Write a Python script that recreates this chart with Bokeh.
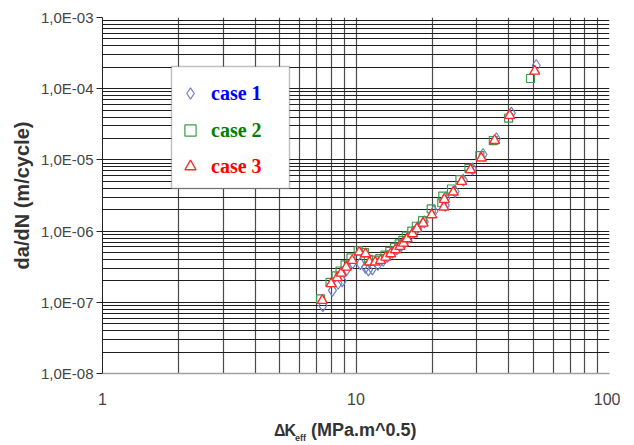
from bokeh.plotting import figure
from bokeh.models import (Range1d, FixedTicker, Legend, LegendItem, BoxAnnotation, Div)
from bokeh.layouts import column
from bokeh.embed import file_html
from bokeh.resources import INLINE

# ---- data ----
case1_x = [7.4, 8.07, 8.5, 8.82, 9.2, 9.7, 10.4, 10.9, 11.2, 11.6, 12.2, 12.8, 13.3, 13.9, 14.5,
           15.1, 15.6, 16.2, 16.9, 17.6, 18.6, 20.3, 22.5, 22.6, 24.6, 26.5, 28.8, 31.7, 35.8, 41.0, 51.4]
case1_y = [9.0e-8, 1.47e-7, 1.85e-7, 2.0e-7, 2.9e-7, 3.6e-7, 3.5e-7, 3.1e-7, 2.85e-7, 2.95e-7, 3.4e-7,
           3.9e-7, 4.4e-7, 5.0e-7, 5.6e-7, 6.3e-7, 7.1e-7, 8.2e-7, 9.6e-7, 1.14e-6, 1.35e-6, 1.9e-6,
           2.3e-6, 2.9e-6, 3.6e-6, 5.2e-6, 7.5e-6, 1.19e-5, 1.98e-5, 4.53e-5, 2.12e-4]

case2_x = [7.25, 7.9, 8.35, 8.65, 9.05, 9.55, 10.2, 10.8, 11.2, 11.8, 12.4, 13.0, 13.6, 14.2, 14.8,
           15.3, 15.8, 16.6, 17.3, 18.3, 19.8, 21.8, 22.0, 23.8, 25.7, 27.9, 30.8, 34.8, 40.0, 48.8]
case2_y = [1.12e-7, 1.9e-7, 2.35e-7, 2.75e-7, 3.35e-7, 4.2e-7, 5.3e-7, 5.0e-7, 4.0e-7, 3.9e-7, 4.1e-7,
           4.6e-7, 5.2e-7, 5.9e-7, 6.6e-7, 7.4e-7, 8.5e-7, 1.0e-6, 1.17e-6, 1.4e-6, 2.05e-6, 2.5e-6,
           3.1e-6, 3.9e-6, 5.3e-6, 7.6e-6, 1.15e-5, 1.87e-5, 3.86e-5, 1.39e-4]

case3_x = [7.36, 7.98, 8.43, 8.74, 9.15, 9.66, 10.3, 10.9, 11.3, 11.9, 12.5, 13.1, 13.7, 14.3, 14.9,
           15.4, 15.9, 16.7, 17.4, 18.4, 19.9, 22.2, 22.3, 24.2, 26.1, 28.3, 31.2, 35.2, 40.4, 50.7]
case3_y = [1.06e-7, 1.82e-7, 2.21e-7, 2.56e-7, 3.11e-7, 3.86e-7, 5.06e-7, 4.8e-7, 3.66e-7, 3.66e-7,
           3.86e-7, 4.3e-7, 4.8e-7, 5.46e-7, 6.08e-7, 6.76e-7, 7.79e-7, 9.16e-7, 1.08e-6, 1.29e-6,
           1.69e-6, 2.17e-6, 2.78e-6, 3.52e-6, 4.97e-6, 7.26e-6, 1.06e-5, 1.87e-5, 4.21e-5, 1.76e-4]

series_names = ["case 1", "case 2", "case 3"]
x_ticks = [1, 10, 100]
x_tick_labels = ["1", "10", "100"]
y_ticks = [1e-8, 1e-7, 1e-6, 1e-5, 1e-4, 1e-3]
y_tick_labels = ["1,0E-08", "1,0E-07", "1,0E-06", "1,0E-05", "1,0E-04", "1,0E-03"]
y_title = "da/dN (m/cycle)"

x_minor = [m * 10.0 ** k for k in range(0, 2) for m in range(2, 10)]
y_minor = [m * 10.0 ** k for k in range(-8, -3) for m in range(2, 10)]

p = figure(width=620, height=412, x_axis_type="log", y_axis_type="log",
           x_range=Range1d(1, 100), y_range=Range1d(1e-8, 1e-3),
           output_backend="svg", toolbar_location=None,
           min_border_left=102, min_border_right=11, min_border_top=17, min_border_bottom=39)
p.background_fill_color = "white"
p.border_fill_color = "white"
p.outline_line_color = None

p.xaxis.ticker = FixedTicker(ticks=x_ticks, minor_ticks=x_minor)
p.yaxis.ticker = FixedTicker(ticks=y_ticks, minor_ticks=y_minor)
p.xaxis.major_label_overrides = {float(v): s for v, s in zip(x_ticks, x_tick_labels)}
p.yaxis.major_label_overrides = {v: s for v, s in zip(y_ticks, y_tick_labels)}

for ax in (p.xaxis[0], p.yaxis[0]):
    ax.major_label_text_font = "Liberation Sans"
    ax.major_label_text_font_size = "15px"
    ax.major_label_text_color = "#444444"
    ax.minor_tick_out = 0
    ax.minor_tick_in = 0
    ax.major_tick_in = 0

p.xaxis.major_label_text_font_size = "16px"
p.xaxis.major_tick_out = 0
p.xaxis.axis_line_color = "#a0a0a0"
p.xaxis.axis_line_width = 1.5
p.xaxis.major_label_standoff = 19

p.yaxis.major_tick_out = 6
p.yaxis.major_tick_line_color = "#222222"
p.yaxis.axis_line_color = "#222222"
p.yaxis.major_label_standoff = 3
p.yaxis.axis_label = y_title
p.yaxis.axis_label_text_font = "Liberation Sans"
p.yaxis.axis_label_text_font_style = "bold"
p.yaxis.axis_label_text_font_size = "20px"
p.yaxis.axis_label_text_color = "#333333"
p.yaxis.axis_label_standoff = 5

p.xgrid.grid_line_color = "#4a4a4a"
p.xgrid.minor_grid_line_color = "#4a4a4a"
p.ygrid.grid_line_color = "#1e1e1e"
p.ygrid.minor_grid_line_color = "#1e1e1e"
for g in (p.xgrid[0], p.ygrid[0]):
    g.grid_line_width = 1.2
    g.minor_grid_line_width = 1.2

r1 = p.scatter(case1_x, case1_y, marker="diamond", size=12, fill_color=None,
               line_color="#6f7fcc", line_width=1.2)
r2 = p.scatter(case2_x, case2_y, marker="square", size=8, fill_color=None,
               line_color="#3f9a4f", line_width=1.2)
r3 = p.scatter(case3_x, case3_y, marker="triangle", size=10, fill_color="white",
               line_color="#ff2a2a", line_width=1.4)

# legend box (screen px relative to the plot frame)
box = BoxAnnotation(left=69, right=187, bottom=185, top=307,
                    left_units="screen", right_units="screen",
                    bottom_units="screen", top_units="screen",
                    fill_color="white", fill_alpha=1.0,
                    line_color="#333333", line_width=1.5, level="annotation")
p.add_layout(box)

colors = ["#0000ff", "#008000", "#ff0000"]
rends = [r1, r2, r3]
bottoms = [266, 229, 193]
for name, col, rr, b in zip(series_names, colors, rends, bottoms):
    lg = Legend(items=[LegendItem(label=name, renderers=[rr])], location=(74, b),
                label_text_font="Liberation Serif", label_text_font_style="bold",
                label_text_font_size="20px", label_text_color=col,
                glyph_width=28, glyph_height=28, label_height=20, label_standoff=7,
                padding=0, margin=0, spacing=0,
                border_line_color=None, background_fill_alpha=0)
    p.add_layout(lg, "center")

# x axis title with subscript, as an HTML text block under the plot
xlabel = Div(text='<span style="font-size:16px;letter-spacing:-1px">ΔK</span>'
                  '<sub style="font-size:9px">eff</sub> (MPa.m^0.5)',
             width=620, height=33,
             styles={"padding-left": "269px", "padding-top": "3px",
                     "font-family": "Liberation Sans", "font-weight": "bold",
                     "font-size": "18px", "color": "#333333", "line-height": "20px",
                     "box-sizing": "border-box", "white-space": "nowrap"})

layout = column(p, xlabel, spacing=0)
open("out.html", "w").write(file_html(layout, INLINE))
